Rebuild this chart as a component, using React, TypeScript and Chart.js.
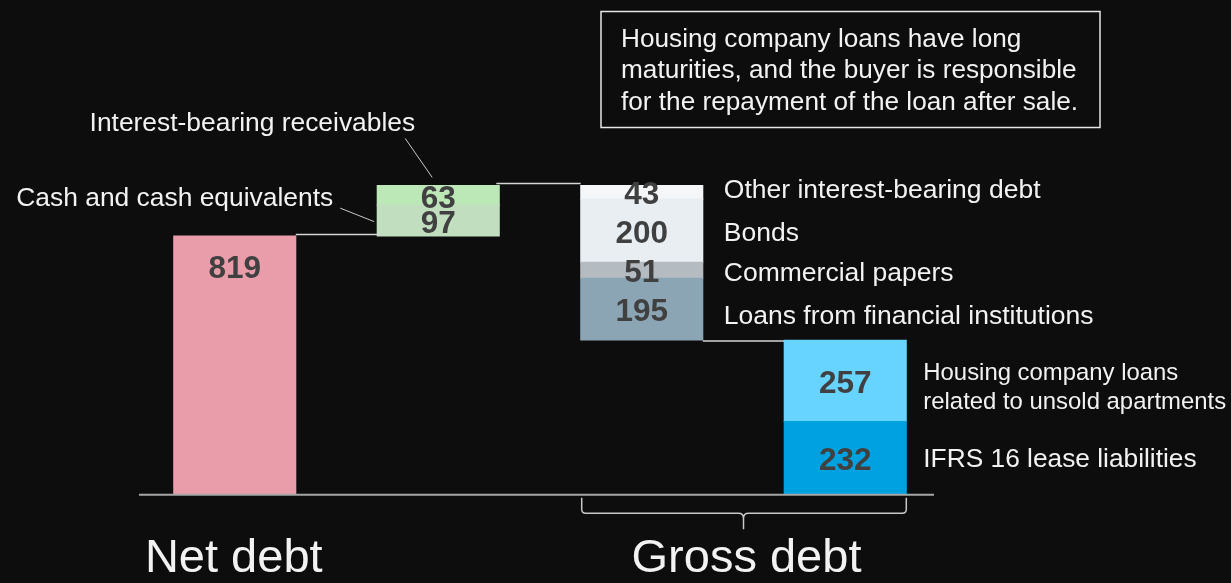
import React, { useEffect, useRef } from 'react';
import { Chart, registerables } from 'chart.js';

Chart.register(...registerables);

// ---- data ----
const columns = ['Net debt', 'Deductions', 'Interest-bearing debt', 'Other debt'];
const segmentNames = [
  'Net debt',
  'Cash and cash equivalents',
  'Interest-bearing receivables',
  'Loans from financial institutions',
  'Commercial papers',
  'Bonds',
  'Other interest-bearing debt',
  'IFRS 16 lease liabilities',
  'Housing company loans\nrelated to unsold apartments',
];
const segmentValues = [819, 97, 63, 195, 51, 200, 43, 232, 257];
const segmentColumns = [0, 1, 1, 2, 2, 2, 2, 3, 3];
const segmentColors = [
  '#E99CA9',
  '#C1DFBF',
  '#BCE7B7',
  '#8BA5B5',
  '#B4BCC2',
  '#E8EEF1',
  '#F4F6F8',
  '#00A1E0',
  '#66D4FF',
];
const noteLines = [
  'Housing company loans have long',
  'maturities, and the buyer is responsible',
  'for the repayment of the loan after sale.',
];
const footerLabels = ['Net debt', 'Gross debt'];

// ---- derived floating ranges ----
const colTotals = columns.map((_, c) =>
  segmentValues.reduce((s, v, i) => (segmentColumns[i] === c ? s + v : s), 0)
);
const topLevel = colTotals[0] + colTotals[1];
const colBases = [0, colTotals[0], topLevel - colTotals[2], 0];
const running = colBases.slice();
const segmentRanges = segmentValues.map((v, i) => {
  const c = segmentColumns[i];
  const lo = running[c];
  running[c] = lo + v;
  return [lo, lo + v];
});

const FONT = '"Liberation Sans", Arial, Helvetica, sans-serif';
const TEXT = '#F2F2F2';
const LINE = '#D4D4D4';

const decor = {
  id: 'decor',
  beforeDraw(chart: any) {
    const ctx = chart.ctx;
    ctx.save();
    ctx.fillStyle = '#0D0D0D';
    ctx.fillRect(0, 0, chart.width, chart.height);
    ctx.restore();
  },
  afterDatasetsDraw(chart: any) {
    const ctx = chart.ctx;
    const ys = chart.scales.y;
    const geo = segmentValues.map((_, i) => {
      const el = chart.getDatasetMeta(i).data[segmentColumns[i]];
      const p = el.getProps(['x', 'y', 'base', 'width'], true);
      const top = Math.min(p.y, p.base);
      const bottom = Math.max(p.y, p.base);
      return {
        x: p.x,
        left: p.x - p.width / 2,
        right: p.x + p.width / 2,
        top,
        bottom,
        mid: (top + bottom) / 2,
      };
    });
    const colGeo = columns.map((_, c) => geo[segmentColumns.indexOf(c)]);
    ctx.save();

    // connectors
    ctx.strokeStyle = LINE;
    ctx.lineWidth = 1.5;
    const conn = (y: number, x1: number, x2: number) => {
      ctx.beginPath();
      ctx.moveTo(x1, y);
      ctx.lineTo(x2, y);
      ctx.stroke();
    };
    conn(ys.getPixelForValue(colTotals[0]) - 1.5, colGeo[0].right, colGeo[1].left + 4);
    conn(ys.getPixelForValue(topLevel) - 2, colGeo[1].right - 3, colGeo[2].left);
    conn(ys.getPixelForValue(colBases[2]) + 1, colGeo[2].right, colGeo[3].left);

    // baseline
    const y0 = ys.getPixelForValue(0);
    ctx.strokeStyle = '#A6A6A6';
    ctx.lineWidth = 2;
    ctx.beginPath();
    ctx.moveTo(chart.chartArea.left + 6, y0);
    ctx.lineTo(chart.chartArea.right - 13, y0);
    ctx.stroke();

    // value labels
    ctx.fillStyle = '#404040';
    ctx.font = 'bold 31.5px ' + FONT;
    ctx.textAlign = 'center';
    ctx.textBaseline = 'alphabetic';
    segmentValues.forEach((v, i) => {
      const g = geo[i];
      const cy = i === 0 ? g.top + 31 : g.mid + 1;
      ctx.fillText(String(v), g.x, cy + 11.2);
    });

    // category labels
    ctx.fillStyle = TEXT;
    const labelDy: Record<number, number> = { 3: 5, 4: 1, 5: 1, 6: -4 };
    segmentNames.forEach((name, i) => {
      const c = segmentColumns[i];
      const g = geo[i];
      const lines = name.split('\n');
      if (c === 2) {
        ctx.font = '26.5px ' + FONT;
        ctx.textAlign = 'left';
        ctx.fillText(name, g.right + 21, g.mid + (labelDy[i] || 0) + 9.5);
      } else if (c === 3) {
        ctx.textAlign = 'left';
        if (lines.length > 1) {
          ctx.font = '23.9px ' + FONT;
          const lh = 29.5;
          const start = g.mid - 9.5;
          lines.forEach((ln, k) => ctx.fillText(ln, g.right + 17, start + k * lh + 8.6));
        } else {
          ctx.font = '26.3px ' + FONT;
          ctx.fillText(name, g.right + 17, g.mid + 9.4);
        }
      }
    });

    // left-side labels with leader lines (column 1)
    const cash = geo[1];
    const recv = geo[2];
    ctx.font = '26.4px ' + FONT;
    ctx.textAlign = 'right';
    ctx.fillText(segmentNames[1], cash.left - 44, cash.mid - 14.5);
    ctx.fillText(segmentNames[2], recv.left + 38, recv.top - 54);
    ctx.strokeStyle = '#C8C8C8';
    ctx.lineWidth = 1;
    ctx.beginPath();
    ctx.moveTo(cash.left - 37, cash.mid - 12.5);
    ctx.lineTo(cash.left - 3, cash.mid + 1);
    ctx.moveTo(recv.left + 28, recv.top - 47);
    ctx.lineTo(recv.left + 55, recv.top - 8);
    ctx.stroke();

    // brace under gross debt
    const L = colGeo[2].left + 1;
    const R = colGeo[3].right;
    const C = (colGeo[2].right + colGeo[3].left) / 2;
    const yt = y0 + 3;
    const yh = y0 + 18.5;
    const yb = y0 + 34.5;
    ctx.strokeStyle = '#C8C8C8';
    ctx.lineWidth = 1.5;
    ctx.beginPath();
    ctx.moveTo(L, yt);
    ctx.lineTo(L, yh - 4);
    ctx.quadraticCurveTo(L, yh, L + 4, yh);
    ctx.lineTo(C - 5, yh);
    ctx.quadraticCurveTo(C, yh, C, yh + 5);
    ctx.lineTo(C, yb);
    ctx.moveTo(C, yh + 5);
    ctx.quadraticCurveTo(C, yh, C + 5, yh);
    ctx.lineTo(R - 4, yh);
    ctx.quadraticCurveTo(R, yh, R, yh - 4);
    ctx.lineTo(R, yt);
    ctx.stroke();

    // footer labels
    ctx.fillStyle = TEXT;
    ctx.font = '47px ' + FONT;
    ctx.textAlign = 'center';
    ctx.fillText(footerLabels[0], colGeo[0].x - 1, y0 + 77.5);
    ctx.fillText(footerLabels[1], C + 3, y0 + 77.5);

    // note box
    ctx.strokeStyle = '#E6E6E6';
    ctx.lineWidth = 1.5;
    ctx.strokeRect(601, 11.5, 499, 116);
    ctx.fillStyle = TEXT;
    ctx.font = '26.2px ' + FONT;
    ctx.textAlign = 'left';
    noteLines.forEach((ln, k) => ctx.fillText(ln, 621, 46.7 + k * 31.6));

    ctx.restore();
  },
};

export default function App() {
  const ref = useRef<HTMLCanvasElement | null>(null);
  useEffect(() => {
    if (!ref.current) return;
    const chart = new Chart(ref.current, {
      type: 'bar',
      data: {
        labels: columns,
        datasets: segmentValues.map((_, i) => ({
          label: segmentNames[i],
          data: columns.map((__, c) => (c === segmentColumns[i] ? segmentRanges[i] : null)) as any,
          backgroundColor: segmentColors[i],
          borderWidth: 0,
          inflateAmount: 0.5,
          categoryPercentage: 1,
          barPercentage: 0.6,
        })),
      },
      options: {
        responsive: false,
        animation: false,
        devicePixelRatio: 1,
        layout: { padding: { left: 133, right: 284, top: 52.4, bottom: 88.3 } },
        plugins: {
          legend: { display: false },
          tooltip: { enabled: false },
          title: { display: false },
        },
        scales: {
          x: { display: false, stacked: true, offset: true },
          y: { display: false, stacked: false, min: 0, max: 1400 },
        },
      },
      plugins: [decor],
    });
    return () => chart.destroy();
  }, []);
  return (
    <div style={{ position: 'fixed', left: 0, top: 0, width: 1231, height: 583, background: '#0D0D0D' }}>
      <canvas ref={ref} width={1231} height={583} style={{ display: 'block' }} />
    </div>
  );
}
